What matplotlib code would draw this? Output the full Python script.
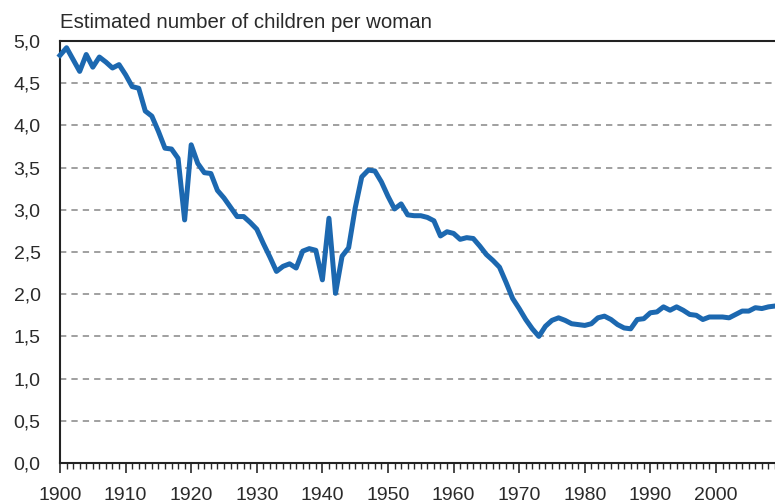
import matplotlib
matplotlib.use("Agg")
import matplotlib.pyplot as plt
from matplotlib.ticker import MultipleLocator, FixedLocator

plt.rcParams['font.family'] = ['Liberation Sans', 'DejaVu Sans']

years = list(range(1900, 2010))
tfr = [
    # 1900-1909
    4.83, 4.92, 4.78, 4.64, 4.84, 4.69, 4.81, 4.75, 4.68, 4.72,
    # 1910-1919
    4.60, 4.46, 4.44, 4.17, 4.11, 3.93, 3.73, 3.72, 3.61, 2.88,
    # 1920-1929
    3.77, 3.55, 3.44, 3.43, 3.23, 3.14, 3.03, 2.92, 2.92, 2.85,
    # 1930-1939
    2.77, 2.60, 2.44, 2.27, 2.33, 2.36, 2.31, 2.51, 2.54, 2.52,
    # 1940-1949
    2.17, 2.90, 2.01, 2.45, 2.55, 3.02, 3.39, 3.47, 3.46, 3.33,
    # 1950-1959
    3.16, 3.01, 3.07, 2.94, 2.93, 2.93, 2.91, 2.87, 2.69, 2.74,
    # 1960-1969
    2.72, 2.65, 2.67, 2.66, 2.57, 2.47, 2.40, 2.32, 2.14, 1.95,
    # 1970-1979
    1.83, 1.70, 1.59, 1.50, 1.62, 1.69, 1.72, 1.69, 1.65, 1.64,
    # 1980-1989
    1.63, 1.65, 1.72, 1.74, 1.70, 1.64, 1.60, 1.59, 1.70, 1.71,
    # 1990-1999
    1.78, 1.79, 1.85, 1.81, 1.85, 1.81, 1.76, 1.75, 1.70, 1.73,
    # 2000-2009
    1.73, 1.73, 1.72, 1.76, 1.80, 1.80, 1.84, 1.83, 1.85, 1.86,
]

y_ticks = [0.0, 0.5, 1.0, 1.5, 2.0, 2.5, 3.0, 3.5, 4.0, 4.5, 5.0]
y_tick_labels = ["0,0", "0,5", "1,0", "1,5", "2,0", "2,5", "3,0", "3,5", "4,0", "4,5", "5,0"]
x_ticks = [1900, 1910, 1920, 1930, 1940, 1950, 1960, 1970, 1980, 1990, 2000]
x_tick_labels = [str(v) for v in x_ticks]
ylabel_text = "Estimated number of children per woman"

fig = plt.figure(figsize=(7.75, 5.03), dpi=100)
ax = fig.add_axes([60/775, 40/503, 1 - 60/775, 422/503])

# dashed grid lines
for v in y_ticks[1:-1]:
    ax.axhline(v, color='#999999', lw=1.3, ls=(0, (3.5, 2.8)), zorder=1)

ax.plot(years, tfr, color='#1c68b0', lw=3.6, solid_joinstyle='round', zorder=3, clip_on=False)

ax.set_xlim(1900, 2009)
ax.set_ylim(0, 5.0)

ax.yaxis.set_major_locator(FixedLocator(y_ticks))
ax.set_yticklabels(y_tick_labels)
ax.xaxis.set_major_locator(FixedLocator(x_ticks))
ax.set_xticklabels(x_tick_labels)
ax.xaxis.set_minor_locator(MultipleLocator(1))

ax.tick_params(axis='y', length=0, pad=14, labelsize=14, colors='#2a2a2a')
ax.tick_params(axis='x', which='major', length=7, width=1.2, direction='out',
               pad=10, labelsize=14, colors='#2a2a2a')
ax.tick_params(axis='x', which='minor', length=4, width=1.0, direction='out', colors='#2a2a2a')

for s in ['left', 'bottom', 'top']:
    ax.spines[s].set_color('#222222')
    ax.spines[s].set_linewidth(1.5)
ax.spines['right'].set_visible(False)

fig.text(60/775, 1 - 22/503, ylabel_text, ha='left', va='center', fontsize=14.7, color='#2a2a2a')

fig.savefig("out.png", dpi=100)
